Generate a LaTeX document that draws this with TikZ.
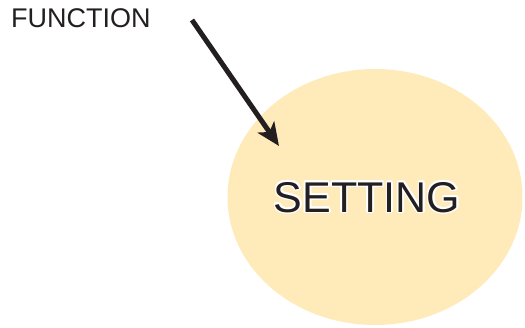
\documentclass[tikz,border=0pt]{standalone}
\usepackage{fontspec}
\setmainfont{Liberation Sans}
\usepackage{contour}
\usetikzlibrary{arrows.meta,positioning,shapes.geometric}
\definecolor{settingfill}{HTML}{FFEBBA}
\definecolor{inkdark}{HTML}{231F20}
\contourlength{1.6pt}
\tikzset{
  blob/.style={ellipse, fill=settingfill, draw=none, inner sep=0pt},
  caption/.style={font=\fontsize{27}{30}\selectfont, text=inkdark, inner sep=0pt},
  bigword/.style={font=\fontsize{43}{46}\selectfont, text=inkdark, inner sep=0pt},
  push/.style={-{Stealth[length=23pt, width=20pt, inset=6pt]}, line width=5pt,
    color=inkdark},
}
\begin{document}
\begin{tikzpicture}[x=1pt,y=-1pt]
  \useasboundingbox (0,0) rectangle (525,327);
  % the setting, a soft yellow disc
  \node[blob, minimum width=295pt, minimum height=256pt] (setting) at (375,197) {};
  \node[bigword, anchor=base] (settingtxt) at (367,212) {\contour{white}{SETTING}};
  % the function label, top left
  \node[caption, anchor=base west] (function) at (11,27) {FUNCTION};
  % arrow into the setting
  \coordinate (tail) at (192,20);
  \coordinate (tip) at (279,146);
  \draw[push] (tail) -- (tip);
\end{tikzpicture}
\end{document}
